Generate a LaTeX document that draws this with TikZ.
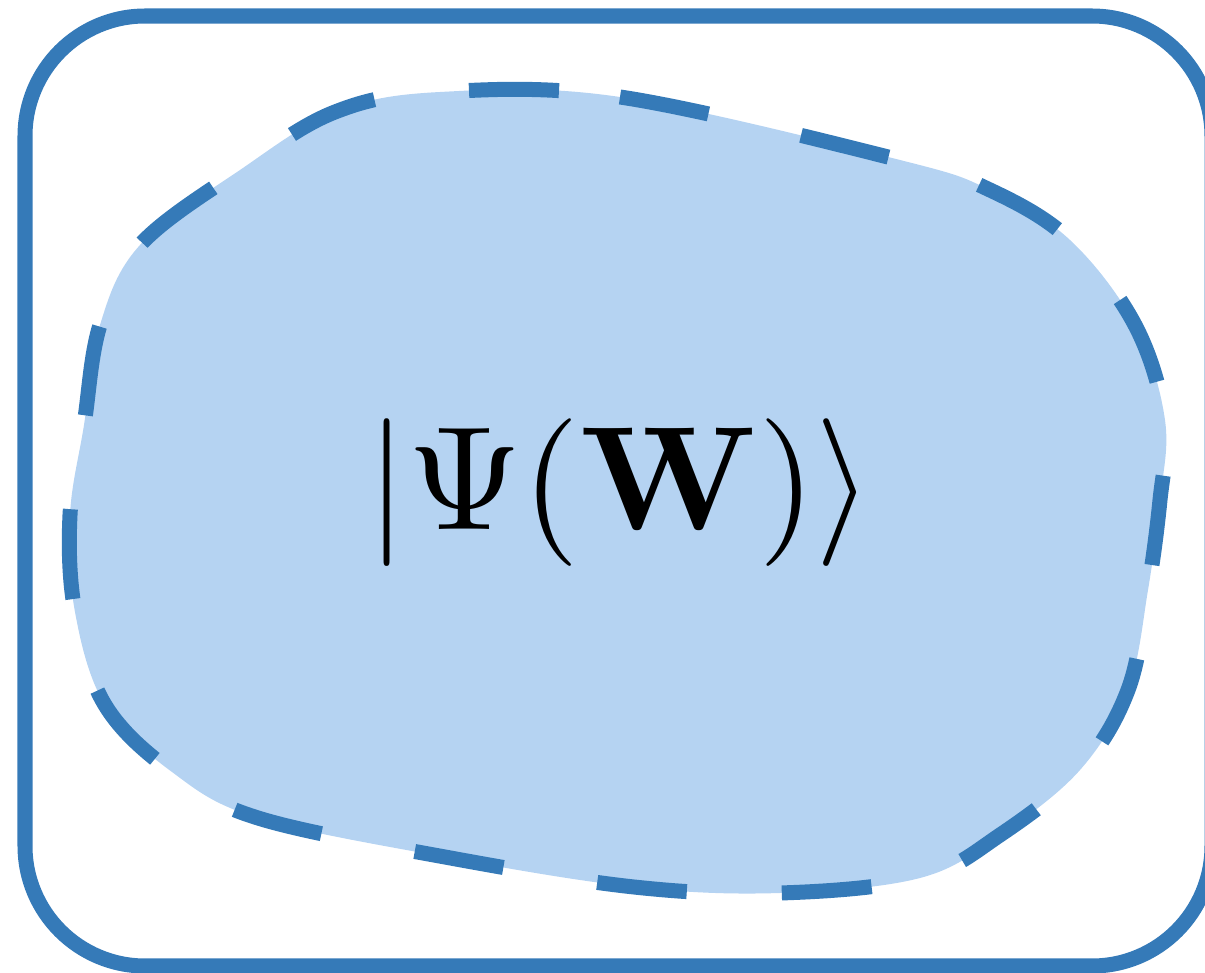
\documentclass[tikz,border=0pt]{standalone}
\usepackage{amsmath}
\usepackage{amsfonts}
\usepackage{tikz}
\usetikzlibrary{positioning,calc}

\definecolor{edgeblue}{HTML}{357AB8}
\definecolor{blobfill}{HTML}{B5D3F2}

\begin{document}
\begin{tikzpicture}[x=0.01cm,y=-0.01cm,
    frame/.style={draw=edgeblue,line width=0.15cm,rounded corners=1.2cm},
    blob/.style={fill=blobfill,draw=edgeblue,line width=0.15cm,dash pattern=on 0.9cm off 0.95cm},
    ket/.style={scale=4.2,inner sep=0pt}]
  \useasboundingbox (0,0) rectangle (1205,973);
  \clip (0,0) rectangle (1205,973);
  % outer box
  \draw[frame] (25,16) rectangle (1212,966);
  % the region
  \draw[blob] plot[smooth cycle,tension=0.6] coordinates {
    (440,92) (620,97) (900,160) (990,190) (1070,240) (1135,325) (1165,420)
    (1160,500) (1148,590) (1128,690) (1080,770) (1000,835) (920,878)
    (780,893) (634,887) (445,857) (258,818) (172,772) (105,705) (75,612)
    (70,515) (84,425) (100,325) (140,245) (240,170) (335,112)};
  \node[ket] (state) at (620,493) {$|\Psi(\mathbf{W})\rangle$};
\end{tikzpicture}
\end{document}
